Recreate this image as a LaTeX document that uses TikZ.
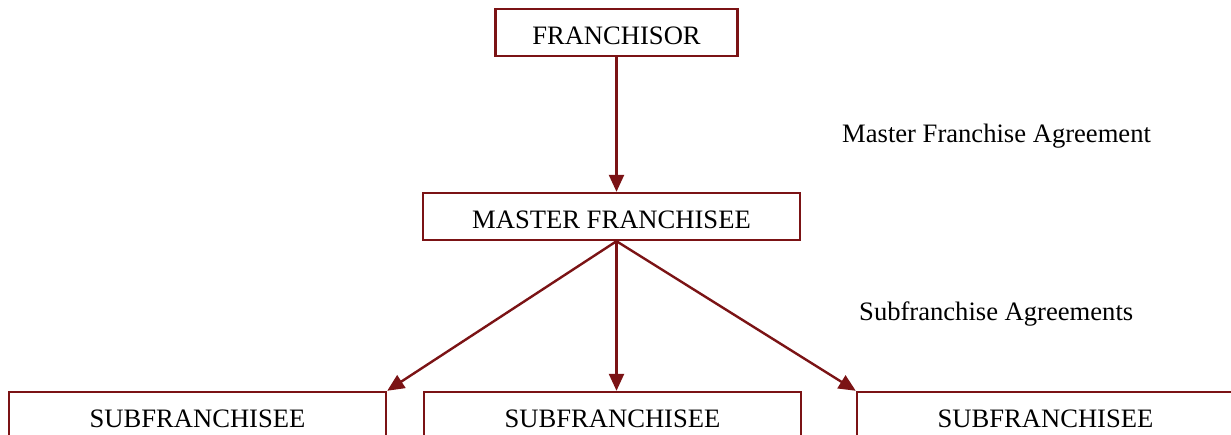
\documentclass[tikz,border=0pt]{standalone}
\usepackage{fontspec}
\setmainfont{Liberation Serif}
\usetikzlibrary{arrows.meta}
\definecolor{dred}{HTML}{7B1315}
\begin{document}
\begin{tikzpicture}[x=1pt,y=-1pt,
  box/.style={draw=dred,line width=2.4pt,fill=white,inner sep=0pt,minimum height=47pt,
    text height=23pt,text depth=0pt,font=\fontsize{26.6}{30}\selectfont},
  lbl/.style={inner sep=0pt,font=\fontsize{26.6}{30}\selectfont,anchor=west},
  conn/.style={draw=dred,line width=2.4pt,-{Triangle[length=17pt,width=15pt]}}]
\useasboundingbox (0,0) rectangle (1231,434);
\node[box,minimum width=242pt] (franchisor) at (616.5,32.5) {FRANCHISOR};
\node[box,minimum width=377pt] (master) at (611.5,216.5) {MASTER FRANCHISEE};
\node[box,minimum width=377pt] (subL) at (197.5,415.5) {SUBFRANCHISEE};
\node[box,minimum width=377pt] (subM) at (612.5,415.5) {SUBFRANCHISEE};
\node[box,minimum width=377pt] (subR) at (1045.5,415.5) {SUBFRANCHISEE};
\node[lbl] (mfa) at (842,136) {Master Franchise Agreement};
\node[lbl] (sfa) at (859,314) {Subfranchise Agreements};
\coordinate (hub) at (franchisor.south |- master.south);
\draw[conn] (franchisor.south) -- (franchisor.south |- master.north);
\draw[conn] (hub) -- (subL.north east);
\draw[conn] (hub) -- (hub |- subM.north);
\draw[conn] (hub) -- (subR.north west);
\end{tikzpicture}
\end{document}
